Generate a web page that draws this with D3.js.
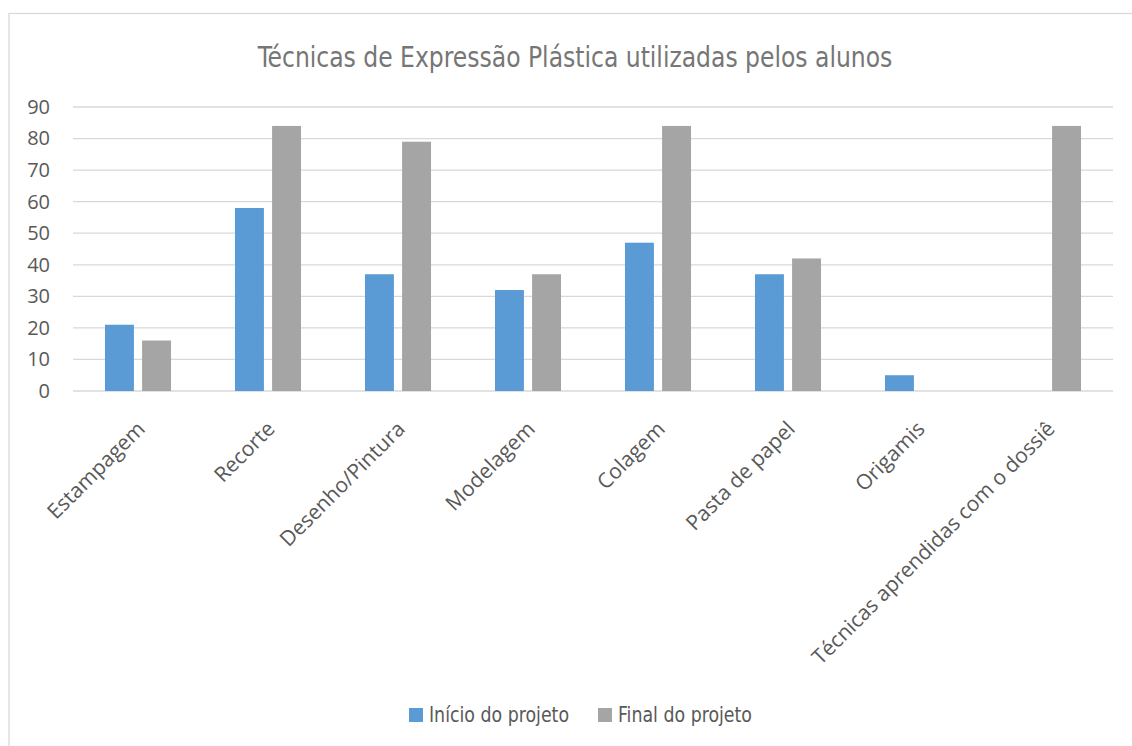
<!DOCTYPE html>
<html>
<head>
<meta charset="utf-8">
<script src="https://cdn.jsdelivr.net/npm/d3@7"></script>
<style>
  body { margin: 0; background: #fff; }
  svg { display: block; }
</style>
</head>
<body>
<div class="chart"></div>
<script>
// Chart data
const categories = ["Estampagem", "Recorte", "Desenho/Pintura", "Modelagem", "Colagem", "Pasta de papel", "Origamis", "Técnicas aprendidas com o dossiê"];
const seriesNames = ["Início do projeto", "Final do projeto"];
const inicioValues = [21, 58, 37, 32, 47, 37, 5, 0];
const finalValues = [16, 84, 79, 37, 84, 42, 0, 84];
const yTicks = [0, 10, 20, 30, 40, 50, 60, 70, 80, 90];
const colors = ["#5B9BD5", "#A5A5A5"];

const W = 1132, H = 746;
const margin = { top: 107, right: 19, bottom: 355, left: 73 };

// squeeze text horizontally to mimic a narrow font
function narrow(sel, factor) {
  sel.each(function () {
    const len = this.getComputedTextLength();
    d3.select(this)
      .attr("textLength", len * factor)
      .attr("lengthAdjust", "spacingAndGlyphs");
  });
}

const svg = d3.select(".chart").append("svg")
  .attr("width", W)
  .attr("height", H);

// Chart area border
svg.append("rect")
  .attr("x", 9).attr("y", 13.5)
  .attr("width", 1140).attr("height", 760)
  .attr("fill", "#fff")
  .attr("stroke", "#D9D9D9")
  .attr("stroke-width", 1.3);

// Title
svg.append("text")
  .attr("x", 575).attr("y", 67)
  .attr("text-anchor", "middle")
  .attr("font-family", "'DejaVu Sans Condensed', sans-serif")
  .attr("font-size", 29)
  .attr("fill", "#767676")
  .text("Técnicas de Expressão Plástica utilizadas pelos alunos")
  .call(narrow, 0.9);

const x0 = d3.scaleBand()
  .domain(categories)
  .range([margin.left, W - margin.right]);

const bw = x0.bandwidth();
const x1 = d3.scaleBand()
  .domain(seriesNames)
  .range([bw * 0.246, bw * 0.754])
  .paddingInner(0.22);

const y = d3.scaleLinear()
  .domain([0, 90])
  .range([H - margin.bottom, margin.top]);

// Gridlines
svg.append("g")
  .selectAll("line")
  .data(yTicks)
  .join("line")
  .attr("x1", margin.left).attr("x2", W - margin.right)
  .attr("y1", d => y(d)).attr("y2", d => y(d))
  .attr("stroke", "#D9D9D9")
  .attr("stroke-width", 1.3);

// Y axis labels
const yAxis = svg.append("g")
  .attr("transform", `translate(${margin.left - 23},0)`)
  .call(d3.axisLeft(y).tickValues(yTicks).tickSize(0).tickPadding(0));
yAxis.select(".domain").remove();
yAxis.selectAll("text")
  .attr("font-family", "'Open Sans', sans-serif")
  .attr("font-size", 20)
  .attr("fill", "#595959");

// Bars
const rows = categories.map((c, i) => ({ cat: c, vals: [inicioValues[i], finalValues[i]] }));
const groups = svg.append("g")
  .selectAll("g")
  .data(rows)
  .join("g")
  .attr("transform", d => `translate(${x0(d.cat)},0)`);

groups.selectAll("rect")
  .data(d => d.vals.map((v, i) => ({ s: seriesNames[i], v, i })).filter(e => e.v > 0))
  .join("rect")
  .attr("x", d => x1(d.s))
  .attr("y", d => y(d.v))
  .attr("width", x1.bandwidth())
  .attr("height", d => y(0) - y(d.v))
  .attr("fill", d => colors[d.i]);

// Category labels
svg.append("g")
  .selectAll("text")
  .data(categories)
  .join("text")
  .attr("transform", d => `translate(${x0(d) + bw / 2 + 3},425) rotate(-45)`)
  .attr("text-anchor", "end")
  .attr("dy", "0.35em")
  .attr("font-family", "'Open Sans', sans-serif")
  .attr("font-size", 21)
  .attr("fill", "#595959")
  .text(d => d);

// Legend
const legendX = [409, 598];
const legend = svg.append("g")
  .selectAll("g")
  .data(seriesNames)
  .join("g")
  .attr("transform", (d, i) => `translate(${legendX[i]},708)`);
legend.append("rect")
  .attr("width", 14).attr("height", 14)
  .attr("fill", (d, i) => colors[i]);
legend.append("text")
  .attr("x", 20).attr("y", 14)
  .attr("font-family", "'DejaVu Sans Condensed', sans-serif")
  .attr("font-size", 21)
  .attr("fill", "#595959")
  .text(d => d)
  .call(narrow, 0.92);
</script>
</body>
</html>
